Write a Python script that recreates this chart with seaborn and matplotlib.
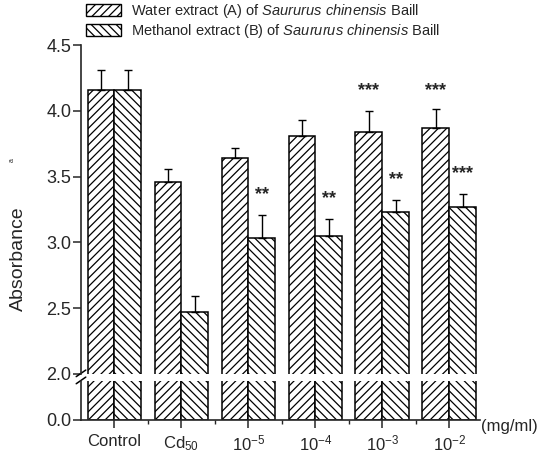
import numpy as np
import pandas as pd
import matplotlib
matplotlib.use("Agg")
import matplotlib.pyplot as plt
import seaborn as sns
from matplotlib.patches import Patch
from matplotlib.ticker import FixedLocator

sns.set_style("ticks")
plt.rcParams['font.family'] = ['Liberation Sans', 'DejaVu Sans']
plt.rcParams['mathtext.fontset'] = 'custom'
plt.rcParams['mathtext.rm'] = 'Liberation Sans'
plt.rcParams['mathtext.it'] = 'Liberation Sans:italic'
plt.rcParams['hatch.linewidth'] = 0.9

# data
groups = ['Control', 'Cd$_{50}$', '10$^{-5}$', '10$^{-4}$', '10$^{-3}$', '10$^{-2}$']
water_A = [4.16, 3.46, 3.64, 3.81, 3.84, 3.87]
water_A_err = [0.15, 0.10, 0.08, 0.12, 0.16, 0.14]
meth_B = [4.16, 2.47, 3.03, 3.05, 3.23, 3.27]
meth_B_err = [0.15, 0.12, 0.18, 0.13, 0.09, 0.10]
stars_A = ['', '', '', '', '***', '***']
stars_B = ['', '', '**', '**', '**', '***']
star_A_y = [0, 0, 0, 0, 4.15, 4.15]
star_B_y = [0, 0, 3.36, 3.33, 3.48, 3.52]

lab_A = 'Water extract (A) of $\\it{Saururus\\ chinensis}$ Baill'
lab_B = 'Methanol extract (B) of $\\it{Saururus\\ chinensis}$ Baill'

df = pd.DataFrame({
    'group': groups * 2,
    'extract': ['A'] * 6 + ['B'] * 6,
    'value': water_A + meth_B,
})

fig = plt.figure(figsize=(5.41, 4.57), dpi=100)
W, H = 541, 457
x0, x1 = 81, 480
ax_top = fig.add_axes([x0 / W, (H - 374) / H, (x1 - x0) / W, 329 / H])
ax_bot = fig.add_axes([x0 / W, (H - 420) / H, (x1 - x0) / W, 39 / H])

hatches = {'A': '////', 'B': '\\\\\\\\'}
for ax in (ax_top, ax_bot):
    sns.barplot(data=df, x='group', y='value', hue='extract', order=groups,
                hue_order=['A', 'B'], palette=['white', 'white'],
                edgecolor='black', linewidth=1.1, errorbar=None,
                width=0.8, legend=False, ax=ax)
    for cont, key in zip(ax.containers, ['A', 'B']):
        for bar in cont:
            bar.set_hatch(hatches[key])
    ax.set_xlim(-0.5, 5.46)
    ax.set_xlabel('')
    ax.set_ylabel('')
    sns.despine(ax=ax)

# error bars (upper only) and significance marks
xpos = np.arange(len(groups))
ax_top.errorbar(xpos - 0.2, water_A, yerr=[np.zeros(6), water_A_err], fmt='none',
                ecolor='black', elinewidth=1.0, capsize=3, capthick=1.0)
ax_top.errorbar(xpos + 0.2, meth_B, yerr=[np.zeros(6), meth_B_err], fmt='none',
                ecolor='black', elinewidth=1.0, capsize=3, capthick=1.0)
for i in range(len(groups)):
    if stars_A[i]:
        ax_top.text(xpos[i] - 0.2, star_A_y[i], stars_A[i], ha='center', va='center',
                    fontsize=13, fontweight='bold')
    if stars_B[i]:
        ax_top.text(xpos[i] + 0.2, star_B_y[i], stars_B[i], ha='center', va='center',
                    fontsize=13, fontweight='bold')

ax_top.set_ylim(2.0, 4.5)
ax_top.set_yticks([2.0, 2.5, 3.0, 3.5, 4.0, 4.5])
ax_top.set_yticklabels(['2.0', '2.5', '3.0', '3.5', '4.0', '4.5'])
ax_top.spines['bottom'].set_visible(False)
ax_top.tick_params(axis='x', bottom=False, labelbottom=False)
ax_top.tick_params(axis='y', direction='out', length=6, width=1.1, labelsize=13, pad=1)

ax_bot.set_ylim(0, 2.0)
ax_bot.set_yticks([0.0])
ax_bot.set_yticklabels(['0.0'])
ax_bot.set_xticks(xpos)
ax_bot.set_xticklabels(groups)
ax_bot.xaxis.set_minor_locator(FixedLocator(xpos[:-1] + 0.5))
ax_bot.tick_params(axis='y', direction='out', length=6, width=1.1, labelsize=13, pad=1)
ax_bot.tick_params(axis='x', which='major', direction='out', length=6, width=1.1,
                   labelsize=12, pad=4)
ax_bot.tick_params(axis='x', which='minor', direction='out', length=3, width=1.0)
for ax in (ax_top, ax_bot):
    for s in ax.spines.values():
        s.set_linewidth(1.2)

# break marks on the y axis
kw = dict(color='black', lw=1.1, clip_on=False)
ax_top.plot([-0.012, 0.012], [-0.008, 0.012], transform=ax_top.transAxes, **kw)
ax_bot.plot([-0.012, 0.012], [0.93, 1.1], transform=ax_bot.transAxes, **kw)

fig.text(18 / W, 1 - 259 / H, 'Absorbance', rotation=90, ha='center', va='center',
         fontsize=14)
fig.text(12 / W, 1 - 160 / H, 'a', rotation=90, ha='center', va='center', fontsize=5)
fig.text(481 / W, 1 - 427 / H, '(mg/ml)', ha='left', va='center', fontsize=12)

handles = [Patch(facecolor='white', edgecolor='black', hatch='////', lw=1.0, label=lab_A),
           Patch(facecolor='white', edgecolor='black', hatch='\\\\\\\\', lw=1.0, label=lab_B)]
fig.legend(handles=handles, loc='upper left', bbox_to_anchor=(86 / W, 1 - 2 / H),
           frameon=False, fontsize=10.5, handlelength=2.4, handleheight=0.9,
           handletextpad=0.7, labelspacing=0.15, borderpad=0, borderaxespad=0)

fig.savefig('out.png', dpi=100)
